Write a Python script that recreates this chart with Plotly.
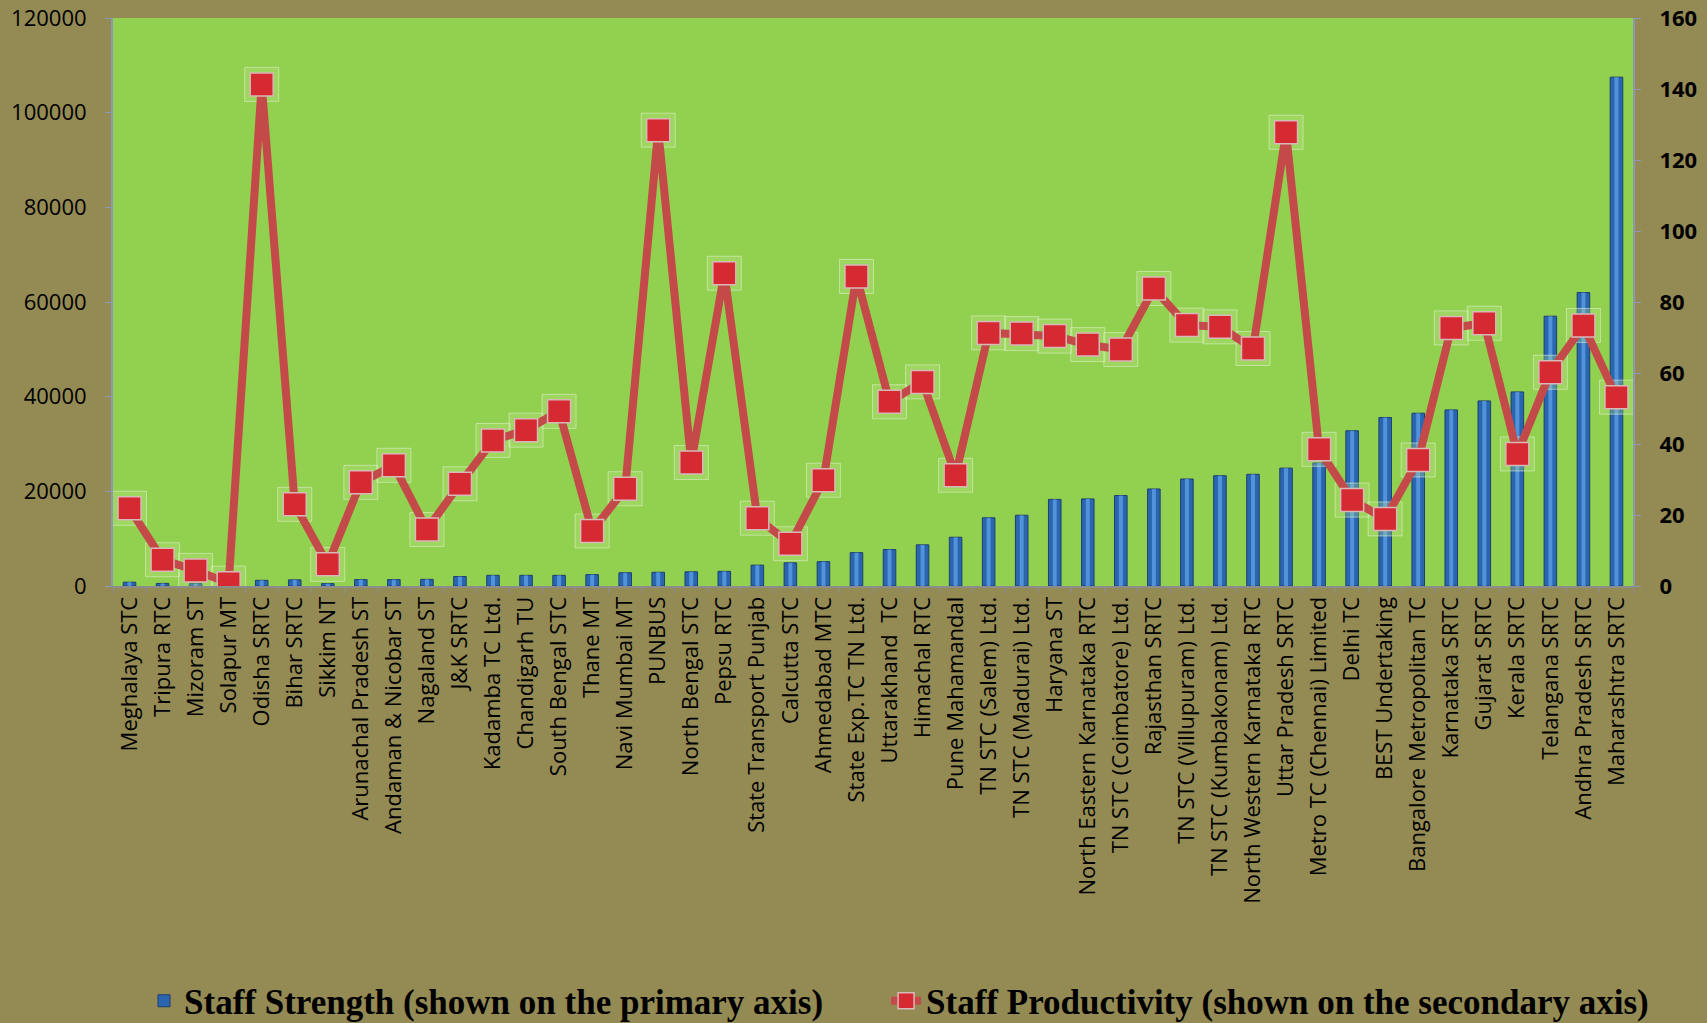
import plotly.graph_objects as go

categories = [
    "Meghalaya STC", "Tripura RTC", "Mizoram ST", "Solapur MT", "Odisha SRTC", "Bihar SRTC",
    "Sikkim NT", "Arunachal Pradesh ST", "Andaman & Nicobar ST", "Nagaland ST", "J&K SRTC",
    "Kadamba TC Ltd.", "Chandigarh TU", "South Bengal STC", "Thane MT", "Navi Mumbai MT",
    "PUNBUS", "North Bengal STC", "Pepsu RTC", "State Transport Punjab", "Calcutta STC",
    "Ahmedabad MTC", "State Exp.TC TN Ltd.", "Uttarakhand  TC", "Himachal RTC",
    "Pune Mahamandal", "TN STC (Salem) Ltd.", "TN STC (Madurai) Ltd.", "Haryana ST",
    "North Eastern Karnataka RTC", "TN STC (Coimbatore) Ltd.", "Rajasthan SRTC",
    "TN STC (Villupuram) Ltd.", "TN STC (Kumbakonam) Ltd.", "North Western Karnataka RTC",
    "Uttar Pradesh SRTC", "Metro TC (Chennai) Limited", "Delhi TC", "BEST Undertaking",
    "Bangalore Metropolitan TC", "Karnataka SRTC", "Gujarat SRTC", "Kerala SRTC",
    "Telangana SRTC", "Andhra Pradesh SRTC", "Maharashtra SRTC",
]

staff_strength = [
    800, 550, 500, 500, 1200, 1300, 500, 1350, 1350, 1400, 2000,
    2250, 2250, 2250, 2400, 2800, 2900, 3000, 3100, 4400, 4900,
    5150, 7050, 7700, 8700, 10300, 14400, 14950, 18300, 18400, 19100,
    20500, 22600, 23300, 23600, 24900, 26000, 32800, 35600, 36500,
    37200, 39100, 41000, 57000, 62000, 107500,
]

staff_productivity = [
    21.9, 7.4, 4.4, 0.8, 141.3, 23.0, 6.1, 29.2, 34.0, 15.9, 28.8,
    41.0, 43.9, 49.2, 15.5, 27.4, 128.4, 34.8, 88.1, 19.1, 11.9,
    29.8, 87.2, 51.9, 57.5, 31.2, 71.3, 71.1, 70.4, 68.0, 66.6,
    83.8, 73.5, 73.0, 66.9, 127.8, 38.5, 24.2, 18.9, 35.5,
    72.7, 74.0, 37.2, 60.2, 73.4, 53.2,
]

left_ticks = [0, 20000, 40000, 60000, 80000, 100000, 120000]
right_ticks = [0, 20, 40, 60, 80, 100, 120, 140, 160]

BAR_NAME = "Staff Strength (shown on the primary axis)"
LINE_NAME = "Staff Productivity (shown on the secondary axis)"

fig = go.Figure()

# bars (main body)
fig.add_trace(go.Bar(
    x=categories, y=staff_strength, name=BAR_NAME, width=0.38,
    marker=dict(color="#2A66B0", line=dict(color="#1C3F6E", width=1)),
    yaxis="y", showlegend=True, legend="legend",
))
# bar highlight stripe
fig.add_trace(go.Bar(
    x=categories, y=staff_strength, width=0.12, hoverinfo="skip",
    marker=dict(color="rgba(100,165,235,0.7)", line=dict(width=0)),
    yaxis="y", showlegend=False,
))

# marker halo
fig.add_trace(go.Scatter(
    x=categories, y=staff_productivity, yaxis="y2", mode="markers", hoverinfo="skip",
    marker=dict(symbol="square", size=34, color="rgba(190,232,140,0.28)",
                line=dict(color="rgba(230,242,215,0.55)", width=1)),
    showlegend=False,
))

# line with markers
fig.add_trace(go.Scatter(
    x=categories, y=staff_productivity, name=LINE_NAME, yaxis="y2",
    mode="lines+markers", legend="legend2",
    line=dict(color="#C44A4A", width=8),
    marker=dict(symbol="square", size=23, color="#D62A32",
                line=dict(color="#D9B8B8", width=1.5)),
))

legend_font = dict(family="Liberation Serif", size=35, color="black", weight="bold")

fig.update_layout(
    width=1707, height=1023,
    margin=dict(l=113, r=74, t=18, b=437),
    paper_bgcolor="#948A54",
    plot_bgcolor="#92D050",
    barmode="overlay",
    font=dict(family="Open Sans", color="black", size=22),
    xaxis=dict(
        type="category", tickangle=-90, tickson="boundaries", automargin=False,
        ticks="outside", ticklen=6, tickcolor="#8C8C8C",
        showline=True, linecolor="#8C8C8C", linewidth=2,
        tickfont=dict(family="Open Sans", size=22, color="black"),
        showgrid=False, range=[-0.5, len(categories) - 0.5],
    ),
    yaxis=dict(
        range=[0, 120000], tickvals=left_ticks, ticktext=[str(v) for v in left_ticks],
        showgrid=False, zeroline=False, automargin=False,
        showline=True, linecolor="#8C98B4", linewidth=2,
        ticks="outside", ticklen=6, tickcolor="#8C98B4",
        ticklabelstandoff=14,
        tickfont=dict(family="Open Sans", size=22, color="black"),
    ),
    yaxis2=dict(
        range=[0, 160], tickvals=right_ticks, ticktext=[str(v) for v in right_ticks],
        overlaying="y", side="right", automargin=False,
        showgrid=False, zeroline=False,
        showline=True, linecolor="#8C98B4", linewidth=2,
        ticks="outside", ticklen=6, tickcolor="#8C98B4",
        ticklabelstandoff=14,
        tickfont=dict(family="Open Sans", size=22, color="black", weight="bold"),
    ),
    legend=dict(
        orientation="h", x=0.0204, xanchor="left",
        yref="container", y=0.0215, yanchor="middle",
        font=legend_font, bgcolor="rgba(0,0,0,0)",
    ),
    legend2=dict(
        orientation="h", x=0.5086, xanchor="left",
        yref="container", y=0.0215, yanchor="middle",
        font=legend_font, bgcolor="rgba(0,0,0,0)",
    ),
)

fig.write_html("out.html", config={"displayModeBar": False},
               post_script="document.body.style.margin='0';")
